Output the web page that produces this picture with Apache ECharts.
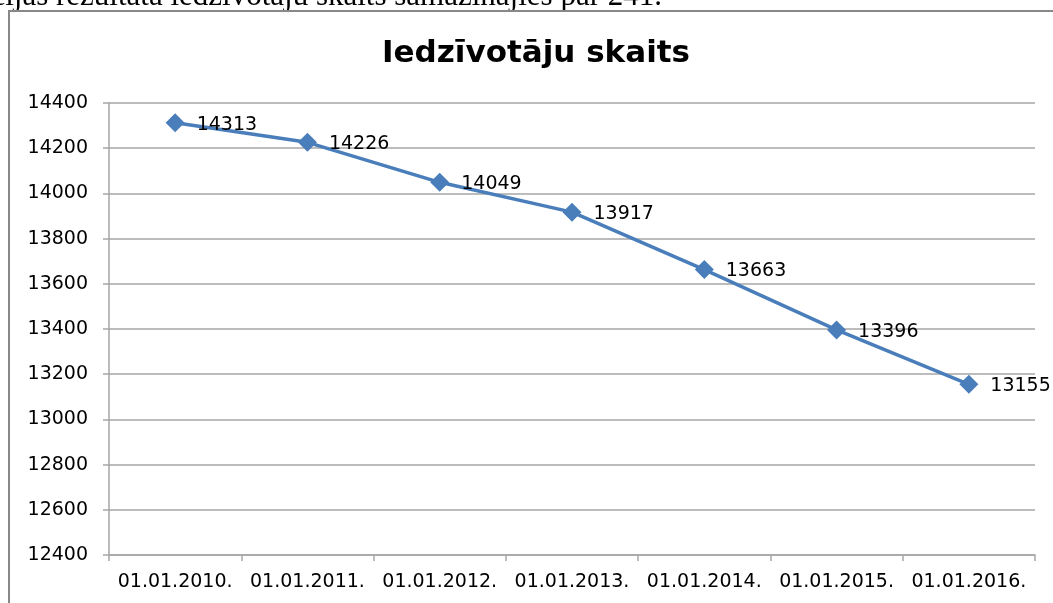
<!DOCTYPE html>
<html>
<head>
<meta charset="utf-8">
<title>Iedzīvotāju skaits</title>
<style type="text/css">
	html,body{margin:0;padding:0;background:#fff;}
	#main{width:1053px;height:603px;}
</style>
</head>
<body>
<div id="main"></div>
<script src="https://cdn.jsdelivr.net/npm/echarts@6/dist/echarts.min.js"></script>
<script type="text/javascript">
	var dates = ['01.01.2010.', '01.01.2011.', '01.01.2012.', '01.01.2013.', '01.01.2014.', '01.01.2015.', '01.01.2016.'];
	var population = [14313, 14226, 14049, 13917, 13663, 13396, 13155];
	var yMin = 12400, yMax = 14400, yStep = 200;

	var chart = echarts.init(document.getElementById('main'));
	var option = {
		animation: false,
		title: {
			text: 'Iedzīvotāju skaits',
			left: 377,
			top: 33,
			textStyle: {fontFamily: 'DejaVu Sans', fontWeight: 'bold', fontSize: 31, color: '#000'}
		},
		graphic: [
			// page text above the chart, cut off at the top
			{
				type: 'text', x: 662, y: 12,
				style: {
					text: 'migrācijas rezultātā iedzīvotāju skaits samazinājies par 241.',
					fontSize: 31, fontFamily: 'Liberation Serif', fill: '#000',
					align: 'right', verticalAlign: 'bottom'
				}
			},
			// chart frame
			{
				type: 'polyline', silent: true,
				shape: {points: [[9, 603], [9, 11], [1053, 11]]},
				style: {stroke: '#888', lineWidth: 2, fill: null}
			}
		],
		grid: {left: 109, right: 18, top: 103, bottom: 48},
		xAxis: {
			type: 'category',
			data: dates,
			boundaryGap: true,
			axisLine: {lineStyle: {color: '#a6a6a6', width: 1.5}},
			axisTick: {show: true, length: 6, lineStyle: {color: '#a6a6a6', width: 1.5}},
			axisLabel: {color: '#000', fontFamily: 'DejaVu Sans', fontSize: 19, margin: 18, interval: 0}
		},
		yAxis: {
			type: 'value',
			min: yMin, max: yMax, interval: yStep,
			axisLine: {show: true, lineStyle: {color: '#a6a6a6', width: 1.5}},
			axisTick: {show: true, length: 6, lineStyle: {color: '#a6a6a6', width: 1.5}},
			splitLine: {lineStyle: {color: '#a6a6a6', width: 1.5}},
			axisLabel: {color: '#000', fontFamily: 'DejaVu Sans', fontSize: 19, margin: 21,
				formatter: function (v) { return String(v); }}
		},
		series: [{
			type: 'line',
			data: population,
			symbol: 'diamond',
			symbolSize: 19,
			itemStyle: {color: '#4a7ebb'},
			lineStyle: {color: '#4a7ebb', width: 3.5},
			label: {
				show: true, position: 'right', distance: 12,
				color: '#000', fontFamily: 'DejaVu Sans', fontSize: 19, offset: [0, 2]
			}
		}]
	};
	chart.setOption(option);
</script>
</body>
</html>
